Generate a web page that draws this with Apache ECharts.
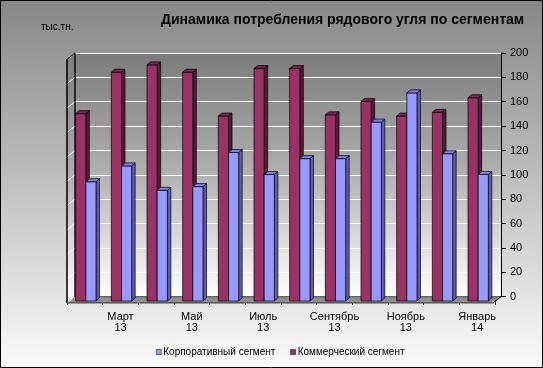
<!DOCTYPE html>
<html><head><meta charset="utf-8">
<script src="https://cdn.jsdelivr.net/npm/echarts@6/dist/echarts.min.js"></script>
<style>html,body{margin:0;padding:0;background:#fff}#c{width:543px;height:368px}</style>
</head><body><div id="c"></div>
<script>
const categories = ['Февраль\n13','Март\n13','Апрель\n13','Май\n13','Июнь\n13','Июль\n13','Август\n13','Сентябрь\n13','Октябрь\n13','Ноябрь\n13','Декабрь\n13','Январь\n14'];
const corporate  = [98, 111, 91, 94, 122, 104, 117, 117, 147, 171, 121, 104];
const commercial = [154, 188, 194, 188, 152, 191, 191, 153, 164, 152, 155, 167];
const yTicks = [0, 200, 20];

const chart = echarts.init(document.getElementById('c'), null, {renderer:'canvas'});
const DX = 3.5, DY = 3;
const colors = {
  comm: {front:'#993366', top:'#7d2452', side:'#5a1838'},
  corp: {front:'#9999ff', top:'#7f7fe6', side:'#5c5cb8'}
};
const wallGrad = {type:'linear', x:0, y:0, x2:0, y2:1, colorStops:[{offset:0,color:'#7c7c7c'},{offset:0.45,color:'#ababab'},{offset:1,color:'#ffffff'}]};
function makeRender(key, which){
  return function(params, api){
    const idx = api.value(0), v = api.value(1);
    const base = api.coord([idx, 0]);
    const top = api.coord([idx, v]);
    const band = api.size([1, 0])[0];
    const w = band * 0.285;
    const x0 = base[0] + 1 + (which === 0 ? -w : 0);
    const x1 = x0 + w;
    const yb = base[1], yt = top[1];
    const c = colors[key];
    const st = {stroke:'#000', lineWidth:0.7};
    return {type:'group', children:[
      {type:'polygon', shape:{points:[[x1,yt],[x1+DX,yt-DY],[x1+DX,yb-DY],[x1,yb]]}, style:Object.assign({fill:c.side}, st)},
      {type:'rect', shape:{x:x0, y:yt, width:w, height:yb-yt}, style:Object.assign({fill:c.front}, st)},
      {type:'polygon', shape:{points:[[x0,yt],[x1,yt],[x1+DX,yt-DY],[x0+DX,yt-DY]]}, style:Object.assign({fill:c.top}, st)}
    ]};
  };
}
const option = {
  animation:false,
  backgroundColor:{type:'linear', x:0, y:0, x2:0, y2:1, colorStops:[{offset:0,color:'#878787'},{offset:0.5,color:'#c0c0c0'},{offset:1,color:'#fbfbfb'}]},
  title:[
    {text:'Динамика потребления рядового угля по сегментам', left:156, top:8, textStyle:{fontFamily:'Liberation Sans', fontSize:14, fontWeight:'bold', color:'#000'}},
    {text:'тыс.тн.', left:36, top:17, textStyle:{fontFamily:'Liberation Sans', fontSize:10, fontWeight:'normal', color:'#000'}}
  ],
  legend:{
    data:['Корпоративный сегмент','Коммерческий сегмент'],
    left:151, top:342, itemWidth:5, itemHeight:5, itemGap:15,
    icon:'rect',
    itemStyle:{borderColor:'#000', borderWidth:0.5},
    textStyle:{fontFamily:'Liberation Sans', fontSize:10, color:'#000', padding:[0,0,0,-3]}
  },
  grid:[
    {left:75, right:42, top:53, bottom:71.3, show:true, borderWidth:0, backgroundColor:wallGrad},
    {left:67, right:48, top:57.6, bottom:67}
  ],
  xAxis:[
    {type:'category', gridIndex:0, data:categories, show:false},
    {type:'category', gridIndex:1, data:categories, offset:2,
     axisLine:{show:true, lineStyle:{color:'#000', width:1}},
     axisTick:{show:true, length:4, interval:0, lineStyle:{color:'#000'}},
     axisLabel:{interval:function(i){return i % 2 === 1;}, fontFamily:'Liberation Sans', fontSize:11, color:'#000', lineHeight:11, margin:8}}
  ],
  yAxis:[
    {type:'value', gridIndex:0, position:'right', min:yTicks[0], max:yTicks[1], interval:yTicks[2],
     axisLine:{show:true, lineStyle:{color:'#000', width:1}},
     axisTick:{show:true, length:5, inside:false, lineStyle:{color:'#000'}},
     axisLabel:{fontFamily:'Liberation Sans', fontSize:11, color:'#000', margin:9},
     splitLine:{show:true, lineStyle:{color:'#ffffff', width:1}}},
    {type:'value', gridIndex:1, min:yTicks[0], max:yTicks[1], show:false}
  ],
  series:[
    {name:'Коммерческий сегмент', type:'custom', xAxisIndex:1, yAxisIndex:1, renderItem:makeRender('comm',0),
     itemStyle:{color:colors.comm.front}, encode:{x:0, y:1},
     data:commercial.map((v,i)=>[i,v]), z:3},
    {name:'Корпоративный сегмент', type:'custom', xAxisIndex:1, yAxisIndex:1, renderItem:makeRender('corp',1),
     itemStyle:{color:colors.corp.front}, encode:{x:0, y:1},
     data:corporate.map((v,i)=>[i,v]), z:4}
  ]
};
chart.setOption(option);

// Decorative 3D side wall and floor, positioned through the grids' own scales
const n = categories.length;
function edges(gi, v){
  const a = chart.convertToPixel({gridIndex:gi}, [0, v]);
  const b = chart.convertToPixel({gridIndex:gi}, [1, v]);
  const band = b[0]-a[0];
  return {l:a[0]-band/2, r:a[0]+band*(n-0.5), y:a[1]};
}
const back0 = edges(0, 0), back200 = edges(0, 200), front0 = edges(1, 0);
const ox = front0.l - back0.l, oy = front0.y + 2 - back0.y;
const g = [];
g.push({type:'polygon', z:1, shape:{points:[[back0.l,back0.y],[back0.r,back0.y],[back0.r+ox,back0.y+oy],[back0.l+ox,back0.y+oy]]}, style:{fill:'#8f8f8f', stroke:'#000', lineWidth:0.7}});
g.push({type:'polygon', z:1, shape:{points:[[back200.l,back200.y],[back0.l,back0.y],[back0.l+ox,back0.y+oy],[back200.l+ox,back200.y+oy]]},
  style:{fill:wallGrad, stroke:'#000', lineWidth:0.8}});
for (let v = yTicks[0]; v <= yTicks[1]; v += yTicks[2]) {
  const p = edges(0, v);
  g.push({type:'line', z:2, shape:{x1:p.l, y1:p.y, x2:p.l+ox, y2:p.y+oy}, style:{stroke:'#fff', lineWidth:1}});
}
g.push({type:'line', z:2, shape:{x1:back200.l+ox, y1:back200.y+oy, x2:back0.l+ox, y2:back0.y+oy}, style:{stroke:'#000', lineWidth:1.2}});
g.push({type:'line', z:2, shape:{x1:back200.l, y1:back200.y, x2:back0.l, y2:back0.y}, style:{stroke:'#000', lineWidth:1}});
g.push({type:'line', z:2, shape:{x1:back200.l, y1:back200.y, x2:back200.l+ox, y2:back200.y+oy}, style:{stroke:'#000', lineWidth:1}});
g.push({type:'line', z:2, shape:{x1:back0.r, y1:back0.y, x2:back0.r+ox, y2:back0.y+oy}, style:{stroke:'#000', lineWidth:1}});
g.push({type:'rect', z:10, shape:{x:0.5, y:0.5, width:542, height:367}, style:{fill:'none', stroke:'#000', lineWidth:1}});
chart.setOption({graphic:g});
</script></body></html>
